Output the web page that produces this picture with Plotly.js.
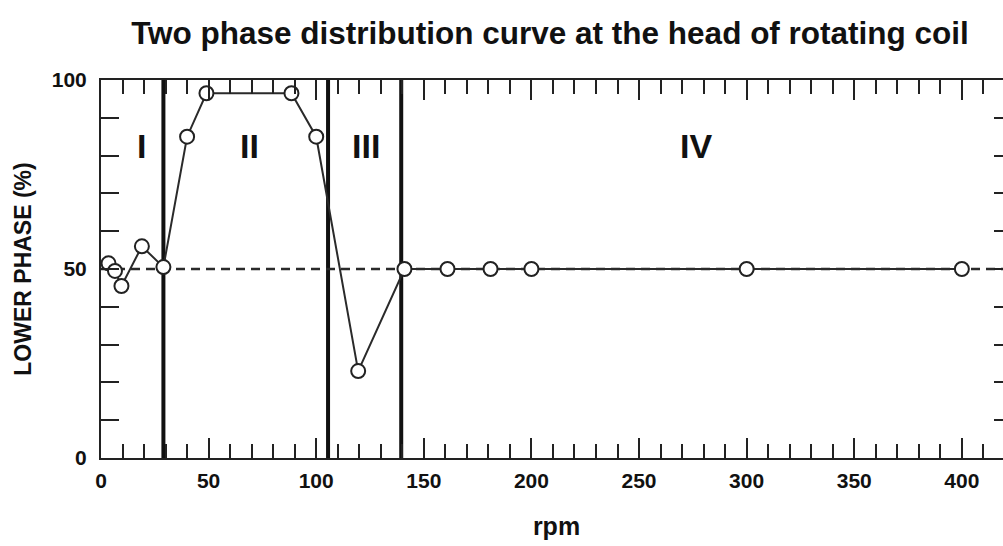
<!DOCTYPE html>
<html>
<head>
<meta charset="utf-8">
<script src="https://cdn.plot.ly/plotly-3.0.1.min.js"></script>
<style>
html, body { margin: 0; padding: 0; overflow: hidden; background: #fff; }
#chart { width: 1012px; height: 546px; }
</style>
</head>
<body>
<div id="chart"></div>
<script>
// Data
const rpm = [3.5, 6.5, 9.5, 19, 29, 40, 49, 88.5, 100, 119.5, 141, 161, 181, 200, 300, 400];
const lowerPhase = [51.5, 49.5, 45.5, 56, 50.5, 85, 96.5, 96.5, 85, 23, 50, 50, 50, 50, 50, 50];

// Region boundaries (rpm) and region labels
const regionBoundaries = [29, 105.5, 139.5];
const regionLabels = ['I', 'II', 'III', 'IV'];
const regionLabelRpm = [18.8, 69, 123, 276.5];
const regionLabelLevel = 82.6;

// Reference level (equal split)
const referenceLevel = 50;

const FONT = 'Liberation Sans, Arial, Helvetica, sans-serif';

const trace = {
  x: rpm,
  y: lowerPhase,
  type: 'scatter',
  mode: 'lines+markers',
  line: { color: '#2a2a2a', width: 2 },
  marker: { symbol: 'circle', size: 14, color: '#ffffff', line: { color: '#222', width: 2 } },
  showlegend: false,
  hoverinfo: 'x+y'
};

const shapes = regionBoundaries.map(b => ({
  type: 'line', xref: 'x', yref: 'paper', x0: b, x1: b, y0: 0, y1: 1,
  line: { color: '#111', width: 4 }, layer: 'below'
}));
shapes.push({
  type: 'line', xref: 'paper', yref: 'y', x0: 0, x1: 1, y0: referenceLevel, y1: referenceLevel,
  line: { color: '#2a2a2a', width: 2.5, dash: '9px,6px' }, layer: 'below'
});

const annotations = regionLabels.map((t, i) => ({
  x: regionLabelRpm[i], y: regionLabelLevel, xref: 'x', yref: 'y',
  text: t, showarrow: false, xanchor: 'center', yanchor: 'middle',
  font: { family: FONT, size: 34, color: '#111', weight: 'bold' }
}));

const layout = {
  width: 1012,
  height: 546,
  margin: { l: 101, r: 0, t: 80, b: 87.5 },
  paper_bgcolor: '#ffffff',
  plot_bgcolor: '#ffffff',
  title: {
    text: 'Two phase distribution curve at the head of rotating coil',
    font: { family: FONT, size: 31.5, color: '#111', weight: 'bold' },
    x: 550 / 1012, xanchor: 'center', xref: 'container',
    y: 1 - 33 / 546, yanchor: 'middle', yref: 'container'
  },
  xaxis: {
    range: [0, 423.3],
    dtick: 50, tick0: 0,
    ticks: 'inside', ticklen: 20, tickwidth: 2, tickcolor: '#222',
    minor: { dtick: 10, ticks: 'inside', ticklen: 14, tickwidth: 2, tickcolor: '#222' },
    showline: true, linewidth: 2, linecolor: '#222', mirror: 'ticks',
    showgrid: false, zeroline: false,
    ticklabelstandoff: 3,
    tickfont: { family: FONT, size: 21, color: '#111', weight: 'bold' },
    title: { text: 'rpm', standoff: 26, font: { family: FONT, size: 25, color: '#111', weight: 'bold' } }
  },
  yaxis: {
    range: [0, 100],
    dtick: 50, tick0: 0,
    ticks: 'inside', ticklen: 18, tickwidth: 2, tickcolor: '#222',
    minor: { dtick: 10, ticks: 'inside', ticklen: 18, tickwidth: 2, tickcolor: '#222' },
    showline: true, linewidth: 2, linecolor: '#222', mirror: 'ticks',
    showgrid: false, zeroline: false,
    ticklabelstandoff: 8,
    tickfont: { family: FONT, size: 21, color: '#111', weight: 'bold' },
    title: { text: 'LOWER PHASE (%)', standoff: 14, font: { family: FONT, size: 23, color: '#111', weight: 'bold' } }
  },
  shapes: shapes,
  annotations: annotations
};

Plotly.newPlot('chart', [trace], layout, { displayModeBar: false, staticPlot: true });
</script>
</body>
</html>
